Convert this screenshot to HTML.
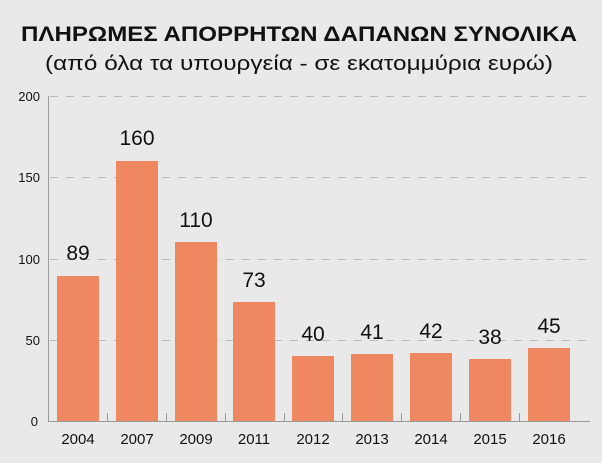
<!DOCTYPE html>
<html><head><meta charset="utf-8"><style>
body{margin:0;background:#e9e9e9;}
svg{display:block;font-family:"Liberation Sans",sans-serif;}
</style></head><body>
<svg width="602" height="463" xmlns="http://www.w3.org/2000/svg">
<rect width="602" height="463" fill="#e9e9e9"/>
<text x="299" y="41" text-anchor="middle" font-size="21" font-weight="bold" fill="#111" textLength="556" lengthAdjust="spacingAndGlyphs">ΠΛΗΡΩΜΕΣ ΑΠΟΡΡΗΤΩΝ ΔΑΠΑΝΩΝ ΣΥΝΟΛΙΚΑ</text>
<text x="299" y="70" text-anchor="middle" font-size="20" fill="#111" textLength="508" lengthAdjust="spacingAndGlyphs">(από όλα τα υπουργεία - σε εκατομμύρια ευρώ)</text>
<g stroke="#bbb" stroke-width="1" stroke-dasharray="8,8">
<line x1="50" y1="96.5" x2="590" y2="96.5"/>
<line x1="50" y1="177.5" x2="590" y2="177.5"/>
<line x1="50" y1="259.5" x2="590" y2="259.5"/>
<line x1="50" y1="340.5" x2="590" y2="340.5"/>
</g>
<g font-size="13" fill="#111" text-anchor="end">
<text x="40" y="101">200</text><text x="40" y="182">150</text><text x="40" y="264">100</text><text x="40" y="345">50</text><text x="38" y="426">0</text>
</g>
<g fill="#ef8860">
<rect x="57" y="276" width="42" height="145"/>
<rect x="116" y="161" width="42" height="260"/>
<rect x="175" y="242" width="42" height="179"/>
<rect x="233" y="302" width="42" height="119"/>
<rect x="292" y="356" width="42" height="65"/>
<rect x="351" y="354" width="42" height="67"/>
<rect x="410" y="353" width="42" height="68"/>
<rect x="469" y="359" width="42" height="62"/>
<rect x="528" y="348" width="42" height="73"/>
</g>
<g stroke="#999" stroke-width="1">
<line x1="48.5" y1="96" x2="48.5" y2="421"/>
<line x1="48" y1="421.5" x2="590" y2="421.5"/>
<line x1="107.5" y1="413" x2="107.5" y2="421"/>
<line x1="166.5" y1="413" x2="166.5" y2="421"/>
<line x1="225.5" y1="413" x2="225.5" y2="421"/>
<line x1="284.5" y1="413" x2="284.5" y2="421"/>
<line x1="342.5" y1="413" x2="342.5" y2="421"/>
<line x1="401.5" y1="413" x2="401.5" y2="421"/>
<line x1="460.5" y1="413" x2="460.5" y2="421"/>
<line x1="519.5" y1="413" x2="519.5" y2="421"/>
</g>
<g font-size="21" fill="#111" text-anchor="middle">
<text x="78" y="260">89</text><text x="137" y="145">160</text><text x="196" y="227">110</text><text x="254" y="287">73</text><text x="313" y="341">40</text><text x="372" y="339">41</text><text x="431" y="338">42</text><text x="490" y="344">38</text><text x="549" y="333">45</text>
</g>
<g font-size="15" fill="#111" text-anchor="middle">
<text x="78" y="444">2004</text><text x="137" y="444">2007</text><text x="196" y="444">2009</text><text x="254" y="444">2011</text><text x="313" y="444">2012</text><text x="372" y="444">2013</text><text x="431" y="444">2014</text><text x="490" y="444">2015</text><text x="549" y="444">2016</text>
</g>
</svg>
</body></html>
